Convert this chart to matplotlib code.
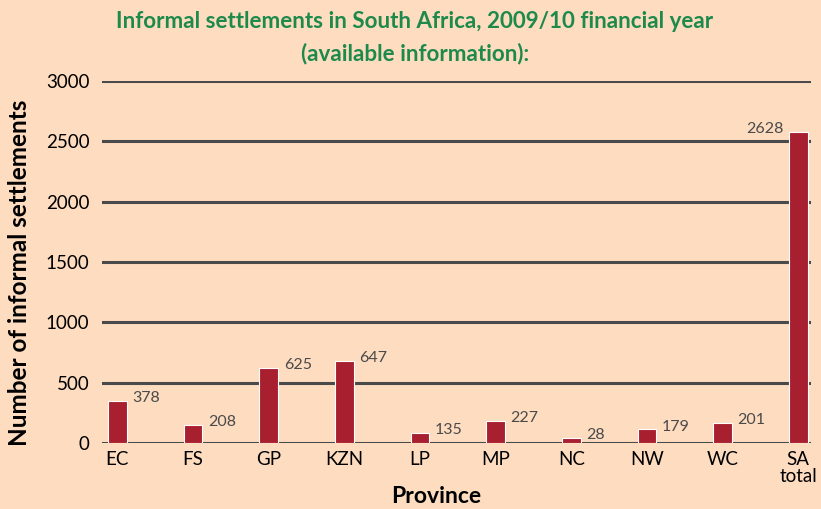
import matplotlib
matplotlib.use("Agg")
import matplotlib.pyplot as plt
import numpy as np

provinces = ["EC", "FS", "GP", "KZN", "LP", "MP", "NC", "NW", "WC", "SA\ntotal"]
bar_heights = [348, 150, 620, 678, 84, 186, 45, 112, 168, 2580]
value_labels = ["378", "208", "625", "647", "135", "227", "28", "179", "201", "2628"]
yticks = [0, 500, 1000, 1500, 2000, 2500, 3000]

bg = "#FDDCC0"
bar_color = "#A81F30"
grid_color = "#4a4a4a"
font = "Lato"

fig = plt.figure(figsize=(8.21, 5.09), dpi=100, facecolor=bg)
ax = fig.add_axes([0.124, 0.1297, 0.864, 0.7113])
ax.set_facecolor(bg)

x = np.arange(len(provinces))
ax.bar(x, bar_heights, width=0.25, color=bar_color, edgecolor="white",
       linewidth=0.8, zorder=3)

for yv in yticks:
    ax.axhline(yv, color=grid_color, linewidth=2.2, zorder=1)

for i, (h, lab) in enumerate(zip(bar_heights, value_labels)):
    if i == len(bar_heights) - 1:
        ax.annotate(lab, (x[i] - 0.125, h), xytext=(-4, 2), textcoords="offset points",
                    ha="right", va="center", fontsize=11.5, color="#4a4a4a", family=font)
    else:
        ax.annotate(lab, (x[i] + 0.125, h), xytext=(4, 2), textcoords="offset points",
                    ha="left", va="center", fontsize=11.5, color="#4a4a4a", family=font)

ax.set_xlim(-0.205, 9.17)
ax.set_ylim(0, 3000)
ax.set_yticks(yticks)
ax.set_yticklabels([str(v) for v in yticks], fontsize=13.5, family=font)
ax.set_xticks(x)
ax.set_xticklabels(provinces, fontsize=13.5, family=font, linespacing=0.95)
ax.tick_params(axis="both", length=0, pad=6)
ax.tick_params(axis="y", pad=9)
for s in ax.spines.values():
    s.set_visible(False)

ax.set_ylabel("Number of informal settlements", fontsize=17.5, fontweight="bold",
              family=font, va="center")
ax.yaxis.set_label_coords(-0.116, 0.471)
ax.set_xlabel("Province", fontsize=16.5, fontweight="bold", family=font, va="center")
ax.xaxis.set_label_coords(0.471, -0.149)

fig.text(0.505, 0.958, "Informal settlements in South Africa, 2009/10 financial year",
         ha="center", va="center", fontsize=16.1, fontweight="bold", color="#1D8A4B",
         family=font)
fig.text(0.505, 0.895, "(available information):",
         ha="center", va="center", fontsize=16.1, fontweight="bold", color="#1D8A4B",
         family=font)

fig.savefig("out.png", dpi=100, facecolor=bg)
